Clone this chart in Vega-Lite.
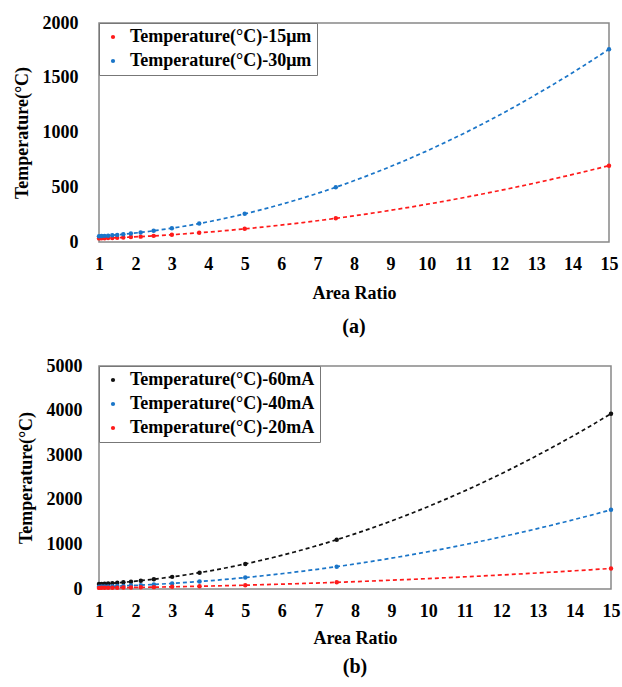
{
  "$schema": "https://vega.github.io/schema/vega-lite/v6.json",
  "padding": {"top": 13, "left": 12, "right": 2, "bottom": 4},
  "spacing": 18,
  "background": "white",
  "config": {
    "view": {"stroke": "#888", "strokeWidth": 1.5},
    "axis": {
      "labelFont": "Times New Roman, Liberation Serif, serif", "labelFontSize": 18, "labelFontWeight": "bold", "labelColor": "black",
      "titleFont": "Times New Roman, Liberation Serif, serif", "titleFontSize": 18, "titleFontWeight": "bold", "titleColor": "black",
      "domain": false, "grid": false, "ticks": false, "labelOverlap": false, "labelFlush": false, "format": "d"
    },
    "legend": {
      "orient": "top-left", "offset": 0, "strokeColor": "#777", "fillColor": "white",
      "padding": 5, "symbolType": "circle", "symbolSize": 18, "symbolStrokeWidth": 0, "labelFont": "Times New Roman, Liberation Serif, serif",
      "labelFontSize": 18, "labelFontWeight": "bold", "labelColor": "black", "rowPadding": 6, "labelLimit": 400, "labelOffset": 8
    },
    "title": {"font": "Times New Roman, Liberation Serif, serif", "fontSize": 20, "fontWeight": "bold", "color": "black"}
  },
  "datasets": {
    "a": [
      {"series": "Temperature(°C)-15μm", "x": 1, "t": 33},
      {"series": "Temperature(°C)-15μm", "x": 1.071, "t": 34},
      {"series": "Temperature(°C)-15μm", "x": 1.154, "t": 35},
      {"series": "Temperature(°C)-15μm", "x": 1.25, "t": 36},
      {"series": "Temperature(°C)-15μm", "x": 1.364, "t": 37.5},
      {"series": "Temperature(°C)-15μm", "x": 1.5, "t": 39},
      {"series": "Temperature(°C)-15μm", "x": 1.667, "t": 42},
      {"series": "Temperature(°C)-15μm", "x": 1.875, "t": 45},
      {"series": "Temperature(°C)-15μm", "x": 2.143, "t": 49},
      {"series": "Temperature(°C)-15μm", "x": 2.5, "t": 56},
      {"series": "Temperature(°C)-15μm", "x": 3, "t": 66},
      {"series": "Temperature(°C)-15μm", "x": 3.75, "t": 84},
      {"series": "Temperature(°C)-15μm", "x": 5, "t": 120},
      {"series": "Temperature(°C)-15μm", "x": 7.5, "t": 216},
      {"series": "Temperature(°C)-15μm", "x": 15, "t": 697},
      {"series": "Temperature(°C)-30μm", "x": 1, "t": 52},
      {"series": "Temperature(°C)-30μm", "x": 1.071, "t": 54},
      {"series": "Temperature(°C)-30μm", "x": 1.154, "t": 56},
      {"series": "Temperature(°C)-30μm", "x": 1.25, "t": 58},
      {"series": "Temperature(°C)-30μm", "x": 1.364, "t": 61},
      {"series": "Temperature(°C)-30μm", "x": 1.5, "t": 65},
      {"series": "Temperature(°C)-30μm", "x": 1.667, "t": 70},
      {"series": "Temperature(°C)-30μm", "x": 1.875, "t": 78},
      {"series": "Temperature(°C)-30μm", "x": 2.143, "t": 87},
      {"series": "Temperature(°C)-30μm", "x": 2.5, "t": 102},
      {"series": "Temperature(°C)-30μm", "x": 3, "t": 126},
      {"series": "Temperature(°C)-30μm", "x": 3.75, "t": 169},
      {"series": "Temperature(°C)-30μm", "x": 5, "t": 257},
      {"series": "Temperature(°C)-30μm", "x": 7.5, "t": 500},
      {"series": "Temperature(°C)-30μm", "x": 15, "t": 1760}
    ],
    "b": [
      {"series": "Temperature(°C)-60mA", "x": 1, "t": 110},
      {"series": "Temperature(°C)-60mA", "x": 1.071, "t": 114},
      {"series": "Temperature(°C)-60mA", "x": 1.154, "t": 118},
      {"series": "Temperature(°C)-60mA", "x": 1.25, "t": 123},
      {"series": "Temperature(°C)-60mA", "x": 1.364, "t": 130},
      {"series": "Temperature(°C)-60mA", "x": 1.5, "t": 139},
      {"series": "Temperature(°C)-60mA", "x": 1.667, "t": 150},
      {"series": "Temperature(°C)-60mA", "x": 1.875, "t": 165},
      {"series": "Temperature(°C)-60mA", "x": 2.143, "t": 187},
      {"series": "Temperature(°C)-60mA", "x": 2.5, "t": 220},
      {"series": "Temperature(°C)-60mA", "x": 3, "t": 272},
      {"series": "Temperature(°C)-60mA", "x": 3.75, "t": 366},
      {"series": "Temperature(°C)-60mA", "x": 5, "t": 563},
      {"series": "Temperature(°C)-60mA", "x": 7.5, "t": 1105},
      {"series": "Temperature(°C)-60mA", "x": 15, "t": 3930},
      {"series": "Temperature(°C)-40mA", "x": 1, "t": 52},
      {"series": "Temperature(°C)-40mA", "x": 1.071, "t": 54},
      {"series": "Temperature(°C)-40mA", "x": 1.154, "t": 56},
      {"series": "Temperature(°C)-40mA", "x": 1.25, "t": 58},
      {"series": "Temperature(°C)-40mA", "x": 1.364, "t": 61},
      {"series": "Temperature(°C)-40mA", "x": 1.5, "t": 65},
      {"series": "Temperature(°C)-40mA", "x": 1.667, "t": 70},
      {"series": "Temperature(°C)-40mA", "x": 1.875, "t": 78},
      {"series": "Temperature(°C)-40mA", "x": 2.143, "t": 87},
      {"series": "Temperature(°C)-40mA", "x": 2.5, "t": 102},
      {"series": "Temperature(°C)-40mA", "x": 3, "t": 126},
      {"series": "Temperature(°C)-40mA", "x": 3.75, "t": 169},
      {"series": "Temperature(°C)-40mA", "x": 5, "t": 257},
      {"series": "Temperature(°C)-40mA", "x": 7.5, "t": 500},
      {"series": "Temperature(°C)-40mA", "x": 15, "t": 1775},
      {"series": "Temperature(°C)-20mA", "x": 1, "t": 25},
      {"series": "Temperature(°C)-20mA", "x": 1.071, "t": 26},
      {"series": "Temperature(°C)-20mA", "x": 1.154, "t": 26.5},
      {"series": "Temperature(°C)-20mA", "x": 1.25, "t": 27},
      {"series": "Temperature(°C)-20mA", "x": 1.364, "t": 28},
      {"series": "Temperature(°C)-20mA", "x": 1.5, "t": 30},
      {"series": "Temperature(°C)-20mA", "x": 1.667, "t": 31.5},
      {"series": "Temperature(°C)-20mA", "x": 1.875, "t": 34},
      {"series": "Temperature(°C)-20mA", "x": 2.143, "t": 37},
      {"series": "Temperature(°C)-20mA", "x": 2.5, "t": 42},
      {"series": "Temperature(°C)-20mA", "x": 3, "t": 49},
      {"series": "Temperature(°C)-20mA", "x": 3.75, "t": 61},
      {"series": "Temperature(°C)-20mA", "x": 5, "t": 86},
      {"series": "Temperature(°C)-20mA", "x": 7.5, "t": 150},
      {"series": "Temperature(°C)-20mA", "x": 15, "t": 460}
    ]
  },
  "resolve": {"scale": {"fill": "independent", "stroke": "independent"}, "legend": {"fill": "independent", "stroke": "independent"}},
  "vconcat": [
    {
      "width": 510, "height": 219,
      "title": {"text": "(a)", "orient": "bottom", "offset": 15},
      "data": {"name": "a"},
      "encoding": {
        "x": {"field": "x", "type": "quantitative", "title": "Area Ratio",
          "scale": {"domain": [1, 15], "nice": false},
          "axis": {"values": [1,2,3,4,5,6,7,8,9,10,11,12,13,14,15], "labelOverlap": false, "labelPadding": 13, "titlePadding": 11}},
        "y": {"field": "t", "type": "quantitative", "title": "Temperature(°C)",
          "scale": {"domain": [0, 2000], "nice": false},
          "axis": {"values": [0, 500, 1000, 1500, 2000], "labelPadding": 17, "titlePadding": 11, "offset": 4}}
      },
      "layer": [
        {
          "transform": [{"regression": "t", "on": "x", "groupby": ["series"], "method": "poly", "order": 2, "extent": [1, 15]}],
          "mark": {"type": "line", "strokeDash": [4, 3], "strokeWidth": 1.7},
          "encoding": {
            "stroke": {"field": "series", "type": "nominal", "title": null,
              "scale": {"domain": ["Temperature(°C)-15μm", "Temperature(°C)-30μm"], "range": ["#ff1a1a", "#1a75c8"]}}
          }
        },
        {
          "mark": {"type": "point", "filled": true, "opacity": 1, "size": 20},
          "encoding": {
            "fill": {"field": "series", "type": "nominal", "title": null,
              "scale": {"domain": ["Temperature(°C)-15μm", "Temperature(°C)-30μm"], "range": ["#ff1a1a", "#1a75c8"]}}
          }
        }
      ]
    },
    {
      "width": 512, "height": 223,
      "title": {"text": "(b)", "orient": "bottom", "offset": 10},
      "data": {"name": "b"},
      "encoding": {
        "x": {"field": "x", "type": "quantitative", "title": "Area Ratio",
          "scale": {"domain": [1, 15], "nice": false},
          "axis": {"values": [1,2,3,4,5,6,7,8,9,10,11,12,13,14,15], "labelOverlap": false, "labelPadding": 13, "titlePadding": 9}},
        "y": {"field": "t", "type": "quantitative", "title": "Temperature(°C)",
          "scale": {"domain": [0, 5000], "nice": false},
          "axis": {"values": [0, 1000, 2000, 3000, 4000, 5000], "labelPadding": 17, "titlePadding": 11}}
      },
      "layer": [
        {
          "transform": [{"regression": "t", "on": "x", "groupby": ["series"], "method": "poly", "order": 2, "extent": [1, 15]}],
          "mark": {"type": "line", "strokeDash": [4, 3], "strokeWidth": 1.7},
          "encoding": {
            "stroke": {"field": "series", "type": "nominal", "title": null,
              "scale": {"domain": ["Temperature(°C)-60mA", "Temperature(°C)-40mA", "Temperature(°C)-20mA"], "range": ["#111111", "#1a75c8", "#ff1a1a"]}}
          }
        },
        {
          "mark": {"type": "point", "filled": true, "opacity": 1, "size": 20},
          "encoding": {
            "fill": {"field": "series", "type": "nominal", "title": null,
              "scale": {"domain": ["Temperature(°C)-60mA", "Temperature(°C)-40mA", "Temperature(°C)-20mA"], "range": ["#111111", "#1a75c8", "#ff1a1a"]}}
          }
        }
      ]
    }
  ]
}
